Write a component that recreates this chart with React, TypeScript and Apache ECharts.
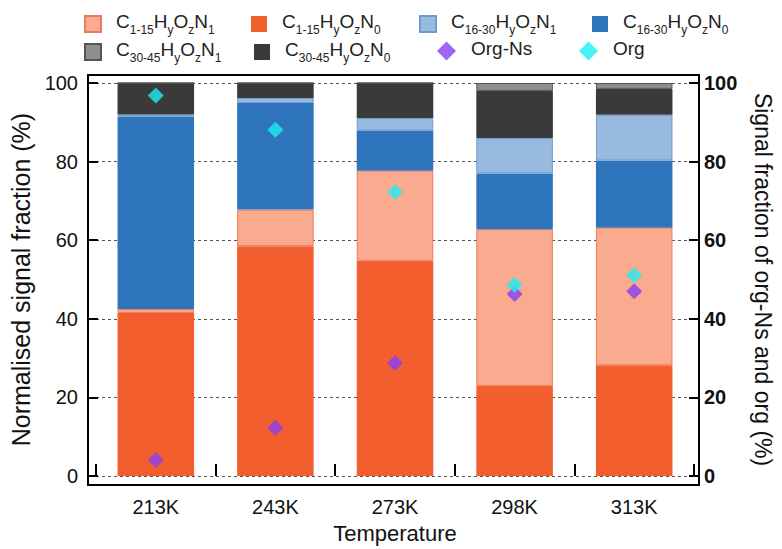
import React, { useEffect, useRef } from "react";
import * as echarts from "echarts";

const categories = ["213K", "243K", "273K", "298K", "313K"];
const c115N0 = [41.5, 58.5, 54.8, 22.9, 28.2];
const c115N1 = [1.0, 9.3, 22.9, 39.9, 35.0];
const c1630N0 = [49.0, 27.1, 10.2, 14.2, 17.1];
const c1630N1 = [0.5, 1.3, 3.2, 9.0, 11.6];
const c3045N0 = [8.0, 3.8, 8.9, 12.0, 6.6];
const c3045N1 = [0, 0, 0, 2.0, 1.5];
const orgNs = [4.1, 12.3, 28.8, 46.3, 47.0];
const org = [96.8, 88.1, 72.3, 48.6, 51.1];
const yTicks = [0, 20, 40, 60, 80, 100];

const FONT = "'Liberation Sans', Arial, sans-serif";

const N1_115 = "C1-15HyOzN1";
const N0_115 = "C1-15HyOzN0";
const N1_1630 = "C16-30HyOzN1";
const N0_1630 = "C16-30HyOzN0";
const N1_3045 = "C30-45HyOzN1";
const N0_3045 = "C30-45HyOzN0";

const fmt = (name: string) => {
  const m = name.match(/^C(\d+-\d+)HyOzN(\d)$/);
  if (m) return `{a|C}{s|${m[1]}}{a|H}{s|y}{a|O}{s|z}{a|N}{s|${m[2]}}`;
  return `{a|${name}}`;
};

const rich = {
  a: { fontSize: 19, lineHeight: 24, verticalAlign: "top", fontFamily: FONT, color: "#222" },
  s: { fontSize: 12, lineHeight: 14, padding: [12, 0, 0, 0], verticalAlign: "top", fontFamily: FONT, color: "#222" },
};

const legendItem = (name: string, left: number, top: number, diamond = false) => ({
  data: [name],
  left,
  top,
  orient: "horizontal",
  icon: diamond ? "diamond" : "rect",
  itemWidth: diamond ? 19 : 16,
  itemHeight: diamond ? 19 : 16,
  formatter: fmt,
  textStyle: { rich, padding: [0, 0, 0, 10] },
  selectedMode: false,
});

export default function App() {
  const ref = useRef<HTMLDivElement>(null);
  useEffect(() => {
    document.body.style.margin = "0";
    if (!ref.current) return;
    const chart = echarts.init(ref.current, null, { renderer: "svg" });
    const barBase = { type: "bar", stack: "total", barWidth: "64%", yAxisIndex: 0 };
    const option = {
      animation: false,
      backgroundColor: "#ffffff",
      textStyle: { fontFamily: FONT },
      grid: { left: 96, right: 88, top: 83, bottom: 71 },
      legend: [
        legendItem(N1_115, 79, 7),
        legendItem(N0_115, 246, 7),
        legendItem(N1_1630, 414, 7),
        legendItem(N0_1630, 587, 7),
        legendItem(N1_3045, 79, 35),
        legendItem(N0_3045, 249, 35),
        legendItem("Org-Ns", 432, 34, true),
        legendItem("Org", 574, 34, true),
      ],
      xAxis: {
        type: "category",
        data: categories,
        offset: 7,
        axisLine: { show: false },
        axisTick: { show: true, inside: true, length: 12, alignWithLabel: false, lineStyle: { color: "#000", width: 2 } },
        axisLabel: { fontSize: 20, color: "#111", margin: 14, fontFamily: FONT },
        name: "Temperature",
        nameLocation: "middle",
        nameGap: 38,
        nameTextStyle: { fontSize: 22, color: "#111", fontFamily: FONT },
      },
      yAxis: [
        {
          type: "value",
          min: 0,
          max: 100,
          interval: 20,
          position: "left",
          offset: 8,
          axisLine: { show: false },
          axisTick: { show: true, inside: true, length: 10, lineStyle: { color: "#000", width: 2 } },
          axisLabel: { fontSize: 20, color: "#111", margin: 10, fontFamily: FONT, formatter: (v: number) => (yTicks.includes(v) ? String(v) : "") },
          splitLine: { show: true, lineStyle: { type: [3, 3], color: "#555", width: 1 } },
          name: "Normalised signal fraction (%)",
          nameLocation: "middle",
          nameRotate: 90,
          nameGap: 50,
          nameTextStyle: { fontSize: 25, color: "#111", fontFamily: FONT },
        },
        {
          type: "value",
          min: 0,
          max: 100,
          interval: 20,
          position: "right",
          offset: 5,
          axisLine: { show: false },
          axisTick: { show: true, inside: true, length: 10, lineStyle: { color: "#000", width: 2 } },
          axisLabel: { fontSize: 20, color: "#111", margin: 5, fontWeight: "bold", fontFamily: FONT },
          splitLine: { show: false },
          name: "Signal fraction of org-Ns and org (%)",
          nameLocation: "middle",
          nameRotate: -90,
          nameGap: 52,
          nameTextStyle: { fontSize: 23, color: "#111", fontFamily: FONT },
        },
      ],
      graphic: [
        {
          type: "rect",
          shape: { x: 88, y: 75, width: 611, height: 410 },
          style: { fill: "none", stroke: "#000", lineWidth: 2 },
          z: 100,
          silent: true,
        },
      ],
      series: [
        { ...barBase, name: N0_115, data: c115N0, itemStyle: { color: "#F35E2F" } },
        { ...barBase, name: N1_115, data: c115N1, itemStyle: { color: "#F9AA8F", borderColor: "#EC7A5C", borderWidth: 1 } },
        { ...barBase, name: N0_1630, data: c1630N0, itemStyle: { color: "#2E75BD" } },
        { ...barBase, name: N1_1630, data: c1630N1, itemStyle: { color: "#98BADF", borderColor: "#6D9BCF", borderWidth: 1 } },
        { ...barBase, name: N0_3045, data: c3045N0, itemStyle: { color: "#3A3A3A" } },
        { ...barBase, name: N1_3045, data: c3045N1, itemStyle: { color: "#8E8E8E", borderColor: "#555555", borderWidth: 1 } },
        { type: "scatter", name: "Org-Ns", yAxisIndex: 1, data: orgNs, symbol: "diamond", symbolSize: 16, itemStyle: { color: "#8A3FF0" }, z: 5 },
        { type: "scatter", name: "Org", yAxisIndex: 1, data: org, symbol: "diamond", symbolSize: 16, itemStyle: { color: "#1BEFF2" }, z: 5 },
      ],
    };
    chart.setOption(option as any);
    return () => chart.dispose();
  }, []);
  return <div ref={ref} style={{ width: 782, height: 549 }} />;
}
